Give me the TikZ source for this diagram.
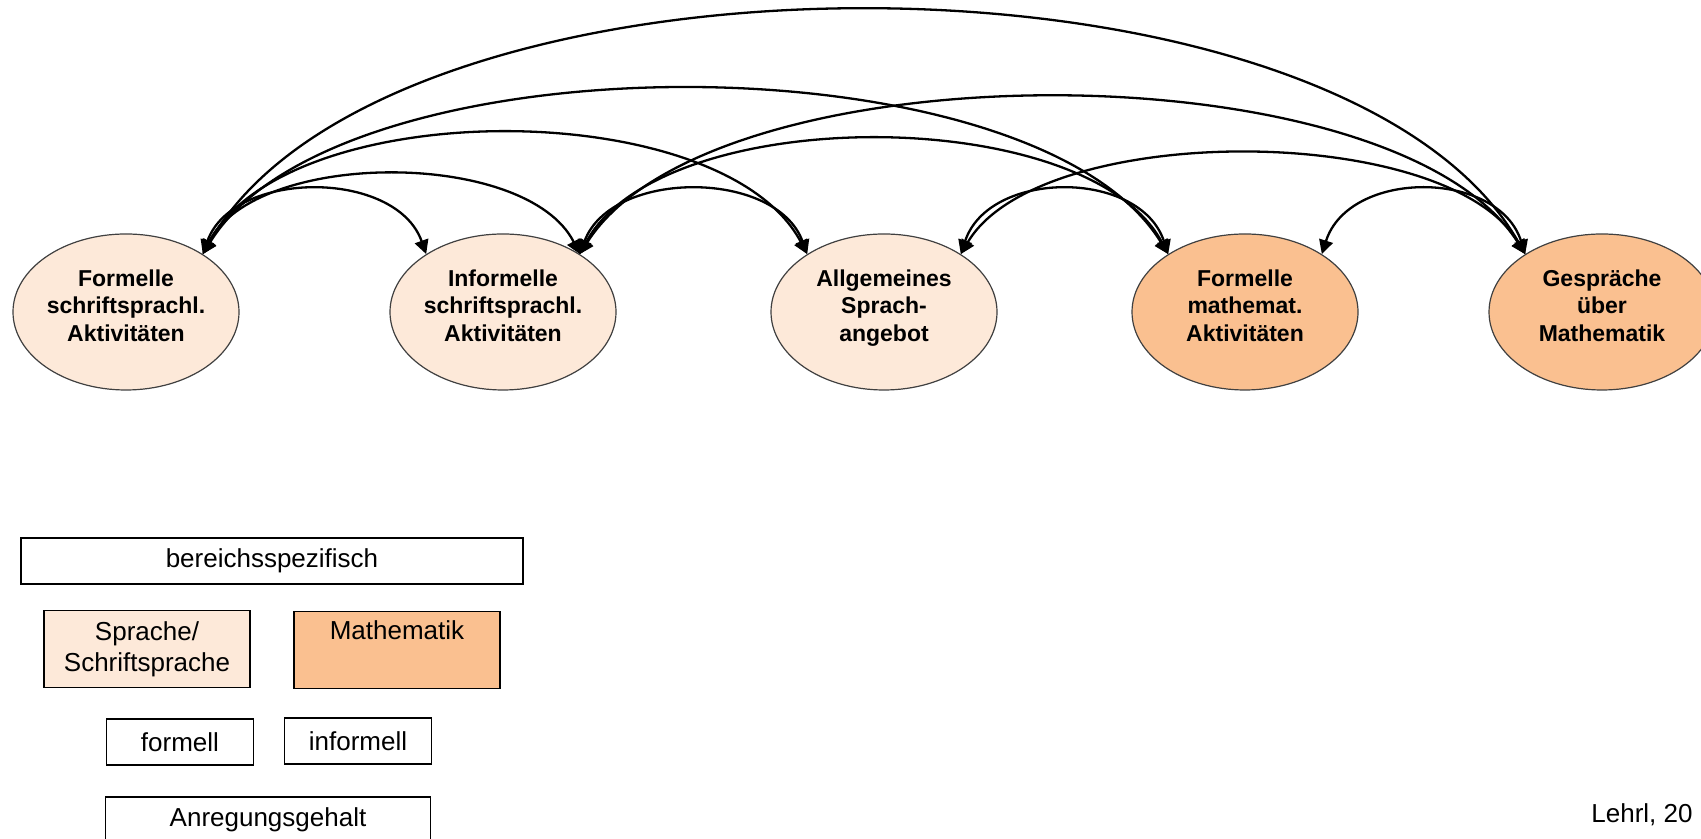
\documentclass[tikz,border=0pt]{standalone}
\usepackage{fontspec}
\setmainfont{Liberation Sans}
\usepackage{xcolor}
\usepackage{tikz}
\usetikzlibrary{
  arrows.meta,
  shapes
}
\definecolor{sprachfarbe}{HTML}{FDE9D9}
\definecolor{mathefarbe}{HTML}{FAC090}

\begin{document}
\begin{tikzpicture}[
    x=0.5pt, y=0.5pt,
    bereich/.style={ellipse, draw=black!75, line width=0.6pt, minimum width=113pt, minimum height=78pt,
        inner sep=0pt, text depth=6.5pt, align=center, font=\fontsize{11.5}{13.75}\selectfont\bfseries},
    sprachbereich/.style={bereich, fill=sprachfarbe},
    mathebereich/.style={bereich, fill=mathefarbe},
    legende/.style={draw, line width=1pt, inner sep=0pt, align=center, font=\fontsize{13}{15.5}\selectfont},
    zusammenhang/.style={<->, >={Triangle[length=7pt, width=7pt]}, line width=1.15pt}
]
\path[use as bounding box, clip] (0,0) rectangle (1701,839);

% Bereiche der Lernumwelt
\node[sprachbereich] (fs) at (126,527) {Formelle\\schriftsprachl.\\Aktivitäten};
\node[sprachbereich] (is) at (503,527) {Informelle\\schriftsprachl.\\Aktivitäten};
\node[sprachbereich] (sa) at (884,527) {Allgemeines\\Sprach-\\angebot};
\node[mathebereich] (fm) at (1245,527) {Formelle\\mathemat.\\Aktivitäten};
\node[mathebereich] (gm) at (1602,527) {Gespräche\\über\\Mathematik};

% Zusammenhänge
\draw[zusammenhang] (fs.37) .. controls +(184,324) and +(-184,324) .. (gm.143);
\draw[zusammenhang] (fs.37) .. controls +(134,219) and +(-134,219) .. (fm.143);
\draw[zusammenhang] (fs.37) .. controls +(84,160) and +(-84,160) .. (sa.143);
\draw[zusammenhang] (fs.37) .. controls +(53,105) and +(-53,105) .. (is.37);
\draw[zusammenhang] (fs.37) .. controls +(30,85) and +(-30,85) .. (is.143);
\draw[zusammenhang] (is.37) .. controls +(131,208) and +(-131,208) .. (gm.143);
\draw[zusammenhang] (is.37) .. controls +(81,152) and +(-81,152) .. (fm.143);
\draw[zusammenhang] (is.37) .. controls +(31,85) and +(-31,85) .. (sa.143);
\draw[zusammenhang] (sa.37) .. controls +(78,133) and +(-78,133) .. (gm.143);
\draw[zusammenhang] (sa.37) .. controls +(28,85) and +(-28,85) .. (fm.143);
\draw[zusammenhang] (fm.37) .. controls +(27,85) and +(-27,85) .. (gm.143);

% Legende
\node[legende, minimum width=251pt, minimum height=23pt] (spezifisch) at (272,278) {bereichsspezifisch};
\node[legende, fill=sprachfarbe, line width=0.8pt, minimum width=103pt, minimum height=38.5pt] (sprache) at (147,190) {Sprache/\\Schriftsprache};
\node[legende, fill=mathefarbe, line width=0.8pt, minimum width=103pt, minimum height=38.5pt] (mathe) at (397,189) {Mathematik\\\strut};
\node[legende, line width=0.8pt, minimum width=73.5pt, minimum height=23pt] (formell) at (180,97) {formell};
\node[legende, line width=0.8pt, minimum width=73.5pt, minimum height=23pt] (informell) at (358,98) {informell};
\node[legende, line width=0.8pt, minimum width=162.5pt, minimum height=23pt] (anregung) at (268,19) {Anregungsgehalt};
\node[anchor=west, inner sep=0pt, font=\fontsize{13}{15.5}\selectfont] (quelle) at (1591,24) {Lehrl, 20};

\end{tikzpicture}
\end{document}
